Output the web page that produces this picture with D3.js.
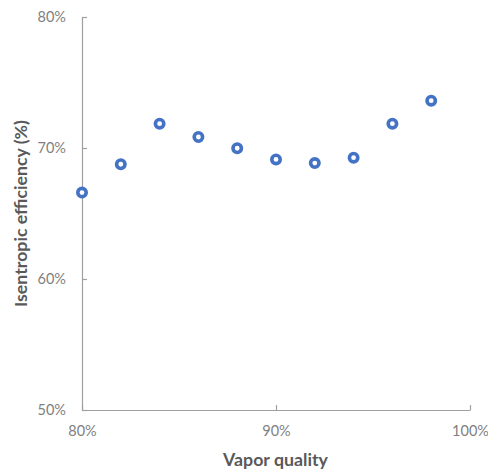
<!DOCTYPE html>
<html>
<head>
<meta charset="utf-8">
<script src="https://cdn.jsdelivr.net/npm/d3@7"></script>
<style>
  body { margin: 0; background: #fff; }
  svg text { font-family: Lato, "Open Sans", sans-serif; }
</style>
</head>
<body>
<div id="chart"></div>
<script>
// valores
const vaporQuality = [0.80, 0.82, 0.84, 0.86, 0.88, 0.90, 0.92, 0.94, 0.96, 0.98];
const efficiency = [0.666, 0.6876, 0.7186, 0.7084, 0.6998, 0.6913, 0.6885, 0.6926, 0.7186, 0.7361];
const xTicks = [0.8, 0.9, 1.0];
const yTicks = [0.5, 0.6, 0.7, 0.8];

const width = 488, height = 470;
const margin = { top: 17, right: 18, bottom: 60, left: 82 };

const svg = d3.select("#chart").append("svg")
    .attr("width", width)
    .attr("height", height);

const x = d3.scaleLinear().domain([0.8, 1.0]).range([margin.left, width - margin.right]);
const y = d3.scaleLinear().domain([0.5, 0.8]).range([height - margin.bottom, margin.top]);

const pct = d3.format(".0%");

// eixo x
const xAxis = svg.append("g")
    .attr("transform", `translate(0,${height - margin.bottom})`)
    .call(d3.axisBottom(x).tickValues(xTicks).tickFormat(pct).tickSizeInner(-5).tickSizeOuter(0).tickPadding(16));

// eixo y
const yAxis = svg.append("g")
    .attr("transform", `translate(${margin.left},0)`)
    .call(d3.axisLeft(y).tickValues(yTicks).tickFormat(pct).tickSizeInner(-5).tickSizeOuter(0).tickPadding(16));

[xAxis, yAxis].forEach(g => {
    g.select(".domain").attr("stroke", "#a0a0a0").attr("stroke-width", 1.2);
    g.selectAll(".tick line").attr("stroke", "#a0a0a0").attr("stroke-width", 1.2);
    g.selectAll(".tick text")
        .attr("fill", "#7f7f7f")
        .style("font-size", "14.5px")
        .style("font-family", "Lato, 'Open Sans', sans-serif");
});

// pontos
svg.append("g")
    .selectAll("circle")
    .data(vaporQuality)
    .join("circle")
    .attr("cx", d => x(d))
    .attr("cy", (d, i) => y(efficiency[i]))
    .attr("r", 4.2)
    .attr("fill", "#fff")
    .attr("stroke", "#4472C4")
    .attr("stroke-width", 3.6);

// ajusta o tamanho da fonte para a largura desejada
function fitText(sel, target) {
    const w = sel.node().getComputedTextLength();
    sel.style("font-size", (16 * target / w).toFixed(2) + "px");
}

// títulos dos eixos
const xTitle = svg.append("text")
    .attr("x", 275.5)
    .attr("y", 466)
    .attr("text-anchor", "middle")
    .attr("fill", "#595959")
    .style("font-size", "16px")
    .style("font-weight", "bold")
    .text("Vapor quality");
fitText(xTitle, 105);

const yTitle = svg.append("text")
    .attr("transform", `translate(27,213.5) rotate(-90)`)
    .attr("text-anchor", "middle")
    .attr("fill", "#595959")
    .style("font-size", "16px")
    .style("font-weight", "bold")
    .text("Isentropic efficiency (%)");
fitText(yTitle, 187);
</script>
</body>
</html>
